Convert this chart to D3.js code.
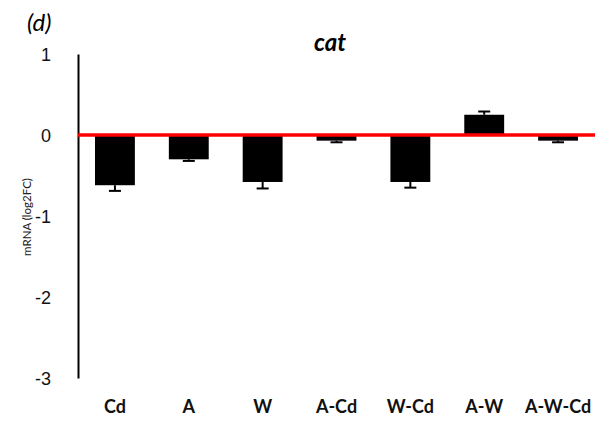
<!DOCTYPE html>
<html>
<head>
<meta charset="utf-8">
<script src="https://cdn.jsdelivr.net/npm/d3@7"></script>
<style>
  html, body { margin: 0; padding: 0; background: #fff; }
  svg { display: block; font-family: Lato, "Open Sans", "Liberation Sans", sans-serif; }
</style>
</head>
<body>
<svg id="chart" width="606" height="421"></svg>
<script>
// cat gene expression, mRNA log2 fold change per treatment
const categories = ["Cd", "A", "W", "A-Cd", "W-Cd", "A-W", "A-W-Cd"];
const values = [-0.62, -0.30, -0.58, -0.07, -0.58, 0.25, -0.07];
const errors = [0.07, 0.02, 0.08, 0.02, 0.07, 0.04, 0.02];
const yTicks = [1, 0, -1, -2, -3];

const svg = d3.select("#chart");
const margin = { left: 78, right: 11, top: 54, bottom: 43 };
const W = 606, H = 421;

const x = d3.scaleBand()
  .domain(categories)
  .range([margin.left, W - margin.right])
  .paddingInner(0.46)
  .paddingOuter(0.23);

const y = d3.scaleLinear()
  .domain([-3, 1])
  .range([H - margin.bottom, margin.top]);

// y axis: line plus labels, no tick marks
const yAxis = d3.axisLeft(y).tickValues(yTicks).tickSize(0).tickPadding(27)
  .tickFormat(d3.format("d"));
const gy = svg.append("g").attr("transform", `translate(${margin.left},0)`).call(yAxis);
gy.select(".domain").attr("stroke", "#000").attr("stroke-width", 2);
gy.selectAll("text").attr("font-size", 18).attr("fill", "#111").attr("dy", "0.36em")
  .text(d => d < 0 ? "-" + Math.abs(d) : d);

// bars
const data = categories.map((c, i) => ({ c, v: values[i], e: errors[i] }));
svg.append("g").selectAll("rect").data(data).join("rect")
  .attr("x", d => x(d.c))
  .attr("width", x.bandwidth())
  .attr("y", d => y(Math.max(0, d.v)))
  .attr("height", d => Math.abs(y(d.v) - y(0)))
  .attr("fill", "#000");

// one-sided error bars, pointing away from zero
const eb = svg.append("g").attr("stroke", "#000").attr("stroke-width", 2);
data.forEach(d => {
  const cx = x(d.c) + x.bandwidth() / 2;
  const end = d.v + Math.sign(d.v) * d.e;
  eb.append("line").attr("x1", cx).attr("x2", cx).attr("y1", y(d.v)).attr("y2", y(end));
  eb.append("line").attr("x1", cx - 6).attr("x2", cx + 6).attr("y1", y(end)).attr("y2", y(end));
});

// zero reference line
svg.append("line")
  .attr("x1", margin.left).attr("x2", W - margin.right)
  .attr("y1", y(0)).attr("y2", y(0))
  .attr("stroke", "#ff0000").attr("stroke-width", 3.5);

// category labels
svg.append("g").selectAll("text").data(categories).join("text")
  .attr("x", d => x(d) + x.bandwidth() / 2)
  .attr("y", 413)
  .attr("text-anchor", "middle")
  .attr("font-size", 18).attr("font-weight", "bold").attr("fill", "#111")
  .text(d => d);

// title and panel letter
svg.append("text").attr("x", 330).attr("y", 51).attr("text-anchor", "middle")
  .attr("font-size", 24).attr("font-weight", "bold").attr("font-style", "italic")
  .text("cat");
svg.append("text").attr("x", 27).attr("y", 31)
  .attr("font-size", 24).attr("font-style", "italic").text("(d)");

// y axis title
svg.append("text")
  .attr("transform", `translate(${31},${217}) rotate(-90)`)
  .attr("text-anchor", "middle")
  .attr("font-size", 11.5).attr("fill", "#222")
  .text("mRNA (log2FC)");
</script>
</body>
</html>
